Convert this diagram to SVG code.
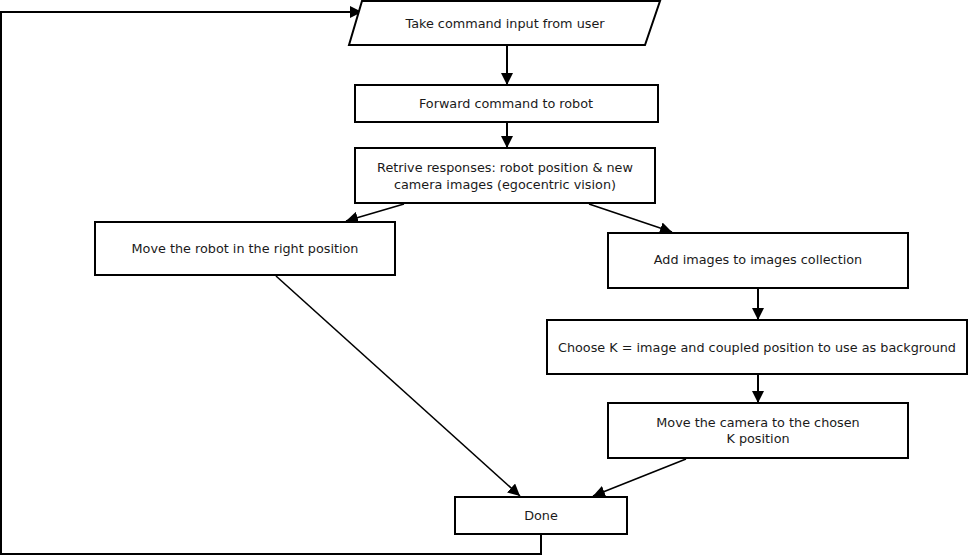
<svg xmlns="http://www.w3.org/2000/svg" width="970" height="557" viewBox="0 0 970 557">
<style>
.n{fill:#fff;stroke:#000;stroke-width:2}
.t{font-family:"DejaVu Sans",sans-serif;font-size:12.8px;fill:#1a1a1a;text-anchor:middle}
.c{fill:none;stroke:#000;stroke-width:1.6}
</style>
<defs>
<marker id="a" viewBox="0 0 10 10" refX="10" refY="5" markerWidth="12" markerHeight="12" markerUnits="userSpaceOnUse" orient="auto"><path d="M0,0L10,5L0,10z" fill="#000"/></marker>
</defs>
<rect width="970" height="557" fill="#fff"/>
<g id="connectors">
<path class="c" d="M507,45V85" marker-end="url(#a)" style="stroke-width:2"/>
<path class="c" d="M507,122V148" marker-end="url(#a)" style="stroke-width:2"/>
<path class="c" d="M404,204L346,221" marker-end="url(#a)"/>
<path class="c" d="M589,204L672,232" marker-end="url(#a)"/>
<path class="c" d="M758,288V320" marker-end="url(#a)" style="stroke-width:2"/>
<path class="c" d="M758,374V403" marker-end="url(#a)" style="stroke-width:2"/>
<path class="c" d="M276,276L520,496" marker-end="url(#a)"/>
<path class="c" d="M686,459L593,496" marker-end="url(#a)"/>
<path class="c" d="M541,534V554H1V12H362" marker-end="url(#a)" style="stroke-width:2"/>
</g>
<g id="input"><path class="n" d="M362,1H660L645,45H349Z"/><text class="t" x="505" y="28">Take command input from user</text></g>
<g id="forward"><rect class="n" x="355" y="85" width="303" height="37"/><text class="t" x="506" y="108">Forward command to robot</text></g>
<g id="retrive"><rect class="n" x="355" y="148" width="300" height="55"/><text class="t" x="505" y="172">Retrive responses: robot position &amp; new</text><text class="t" x="505" y="189">camera images (egocentric vision)</text></g>
<g id="moverobot"><rect class="n" x="95" y="222" width="300" height="53"/><text class="t" x="245" y="253">Move the robot in the right position</text></g>
<g id="addimages"><rect class="n" x="608" y="233" width="300" height="55"/><text class="t" x="758" y="264">Add images to images collection</text></g>
<g id="choosek"><rect class="n" x="547" y="320" width="420" height="54"/><text class="t" x="757" y="352">Choose K = image and coupled position to use as background</text></g>
<g id="movecamera"><rect class="n" x="608" y="403" width="300" height="55"/><text class="t" x="758" y="427">Move the camera to the chosen</text><text class="t" x="758" y="443">K position</text></g>
<g id="done"><rect class="n" x="455" y="497" width="172" height="37"/><text class="t" x="541" y="520">Done</text></g>
</svg>
